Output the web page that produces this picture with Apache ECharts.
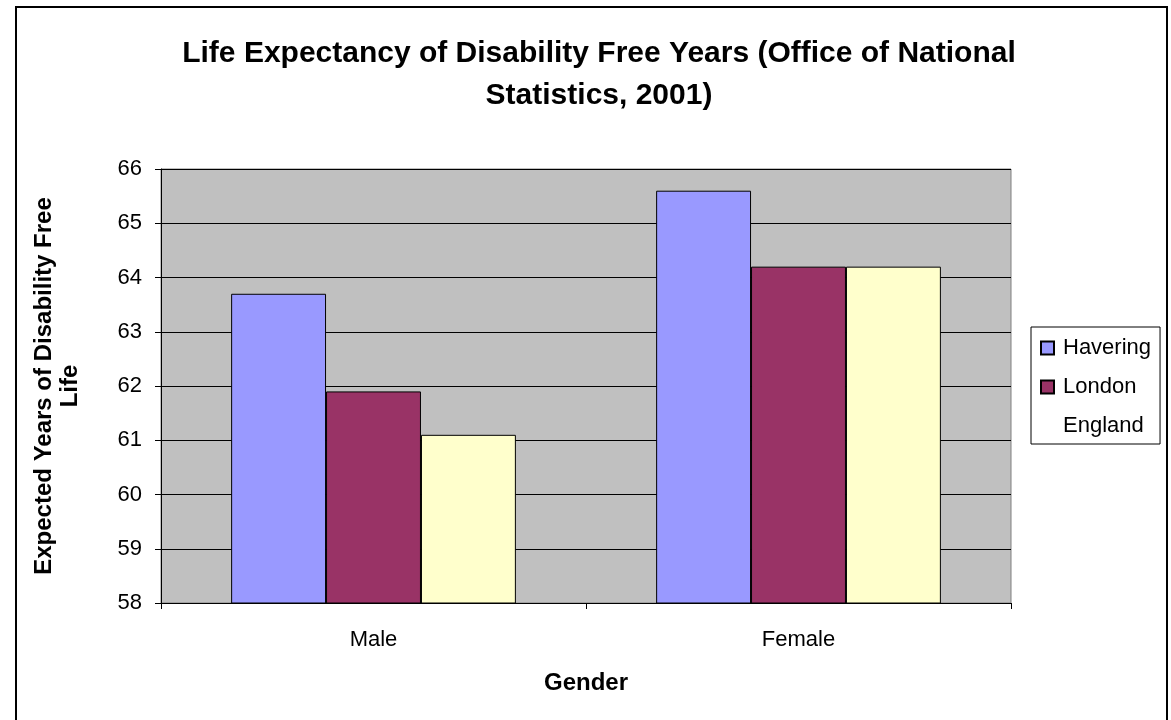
<!DOCTYPE html>
<html>
<head>
<meta charset="utf-8">
<script src="https://cdn.jsdelivr.net/npm/echarts@6/dist/echarts.min.js"></script>
<style>
html,body{margin:0;padding:0;background:#fff;}
#main{width:1171px;height:720px;}
</style>
</head>
<body>
<div id="main"></div>
<script>
const categories = ['Male', 'Female'];
const havering = [63.7, 65.6];
const london = [61.9, 64.2];
const england = [61.1, 64.2];
const seriesNames = ['Havering', 'London', 'England'];
const yTicks = [58, 59, 60, 61, 62, 63, 64, 65, 66];

const FONT = '"Liberation Sans", Arial, sans-serif';
const chart = echarts.init(document.getElementById('main'), null, {renderer: 'canvas'});

const barStyle = (c) => ({color: c, borderColor: '#000', borderWidth: 1});

chart.setOption({
  animation: false,
  backgroundColor: '#fff',
  graphic: [{
    type: 'rect', left: 15, top: 6, z: -1,
    shape: {width: 1151, height: 730},
    style: {fill: '#fff', stroke: '#000', lineWidth: 2}
  }],
  title: {
    text: 'Life Expectancy of Disability Free Years (Office of National\nStatistics, 2001)',
    left: 594, top: 28, textAlign: 'center',
    textStyle: {fontFamily: FONT, fontWeight: 'bold', fontSize: 30, lineHeight: 42, color: '#000'}
  },
  legend: {
    orient: 'vertical', left: 1031, top: 327,
    padding: [10, 9, 7, 9],
    borderColor: '#000', borderWidth: 1,
    itemWidth: 13, itemHeight: 13, itemGap: 17,
    icon: 'rect',
    textStyle: {fontFamily: FONT, fontSize: 22, color: '#000', padding: [0, 0, 0, 4]},
    data: [
      {name: seriesNames[0]},
      {name: seriesNames[1]},
      {name: seriesNames[2], itemStyle: {color: '#fff', borderColor: '#fff', borderWidth: 0}}
    ]
  },
  grid: {
    left: 161, top: 169, right: 160, bottom: 117,
    show: true, backgroundColor: '#C0C0C0', borderColor: '#808080', borderWidth: 1
  },
  xAxis: {
    type: 'category', data: categories,
    axisLine: {lineStyle: {color: '#000', width: 1}},
    axisTick: {show: true, length: 6, lineStyle: {color: '#000'}},
    axisLabel: {fontFamily: FONT, fontSize: 22, color: '#000', margin: 26},
    name: 'Gender', nameLocation: 'middle', nameGap: 68,
    nameTextStyle: {fontFamily: FONT, fontSize: 24, fontWeight: 'bold', color: '#000'}
  },
  yAxis: {
    type: 'value', min: yTicks[0], max: yTicks[yTicks.length - 1], interval: 1,
    axisLine: {show: true, lineStyle: {color: '#000', width: 1}},
    axisTick: {show: true, length: 6, lineStyle: {color: '#000'}},
    axisLabel: {fontFamily: FONT, fontSize: 22, color: '#000', margin: 19},
    splitLine: {show: true, lineStyle: {color: '#000', width: 1}},
    name: 'Expected Years of Disability Free\nLife', nameLocation: 'middle', nameGap: 78,
    nameTextStyle: {fontFamily: FONT, fontSize: 24, fontWeight: 'bold', color: '#000', lineHeight: 26}
  },
  series: [
    {name: seriesNames[0], type: 'bar', data: havering, itemStyle: barStyle('#9999FF'), barGap: '0%', barCategoryGap: '33%'},
    {name: seriesNames[1], type: 'bar', data: london, itemStyle: barStyle('#993366'), barGap: '0%', barCategoryGap: '33%'},
    {name: seriesNames[2], type: 'bar', data: england, itemStyle: barStyle('#FFFFCC'), barGap: '0%', barCategoryGap: '33%'}
  ]
});
</script>
</body>
</html>
